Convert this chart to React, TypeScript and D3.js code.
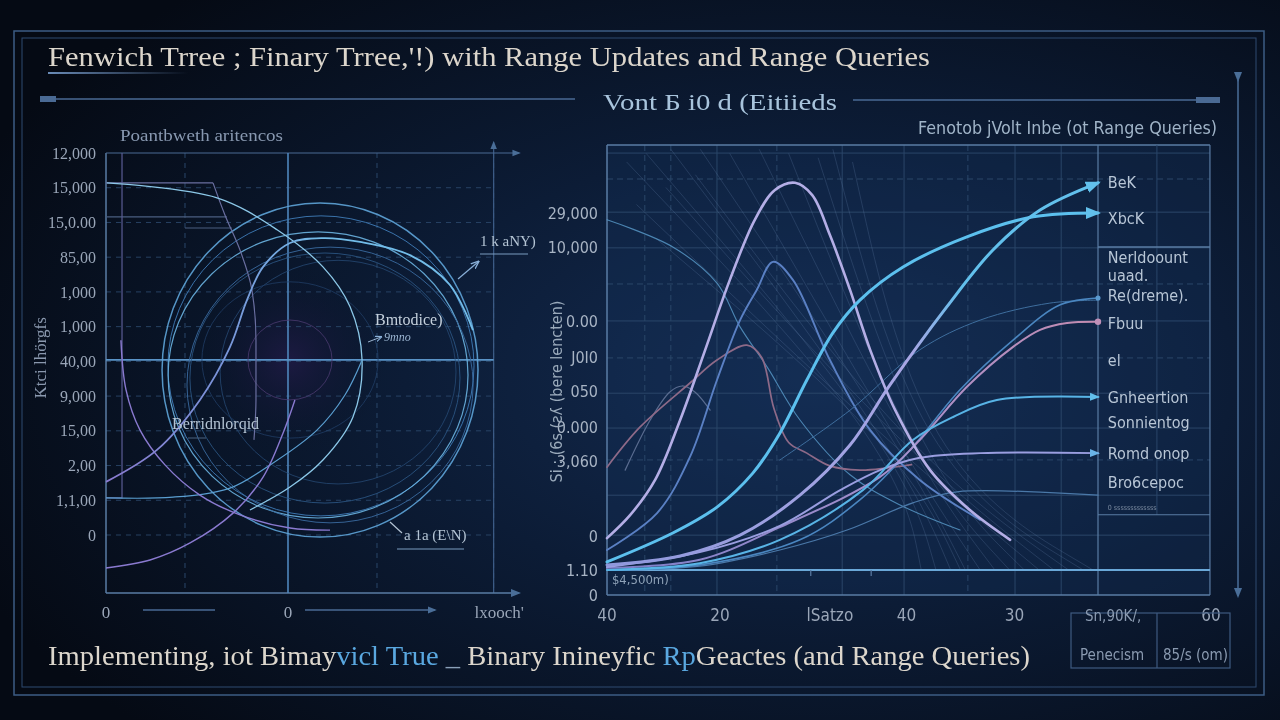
import React from 'react';
import * as d3 from 'd3';

type P = [number, number];

// ---------- left panel data ----------
const leftTickLabels = ['12,000', '15,000', '15,0.00', '85,00', '1,000', '1,000', '40,00', '9,000', '15,00', '2,00', '1,1,00', '0'];
const leftXVals = [0, 10, 21.6];
const leftXLabels = ['0', '0', "lxooch'"];
const leftDashX = [4.34, 14.89, 21.3];

// rings: [cx, cy, rx, ry]
const leftRings: number[][] = [
  [11.76, 4.75, 8.68, 4.81],
  [11.81, 4.87, 8.41, 4.32],
  [11.65, 4.61, 8.24, 4.12],
  [12.31, 4.32, 7.86, 3.97],
  [12.03, 4.52, 7.42, 3.6],
  [12.75, 4.69, 6.48, 3.22],
  [10.11, 5.04, 4.84, 2.25],
  [10.11, 5.04, 2.31, 1.15],
];

const arcTopLight: P[] = [[0.05, 10.14], [6.1, 9.71], [9.4, 8.79], [11.92, 7.72], [13.41, 6.57], [14.07, 5.04], [13.57, 3.4], [11.92, 2.16], [10.11, 1.38], [7.91, 0.72]];
const arcLowLight: P[] = [[0, 1.07], [3.68, 1.09], [6.81, 1.35], [8.85, 1.96], [11.59, 3.02], [13.13, 4.03], [14.07, 5.04]];
const arcPurpleBig: P[] = [[0.82, 5.61], [1.1, 4.18], [1.87, 3.02], [3.24, 2.02], [5.16, 1.15], [7.36, 0.58], [10.11, 0.2], [12.31, 0.14]];
const arcPurpleLow: P[] = [[0, -0.95], [2.42, -0.72], [4.62, -0.23], [6.98, 0.63], [8.63, 1.67], [9.73, 2.94], [10.38, 3.89]];
const arcRise: P[] = [[0, 1.53], [2.8, 2.45], [5.16, 3.89], [6.81, 5.41], [7.75, 6.77], [8.63, 7.72], [10.11, 8.41], [11.92, 8.55], [13.96, 8.44], [16.7, 8.06], [18.9, 7.2], [20.16, 5.9]];
const stepGrey: P[] = [[0, 10.14], [5.88, 10.14], [6.54, 9.21], [7.36, 8.21], [8.02, 7.05], [8.24, 5.61], [8.24, 3.89], [8.13, 2.74]];
const stepGrey2: P[] = [[0, 9.16], [6.65, 9.16]];
const stepGrey3: P[] = [[4.34, 8.84], [6.92, 8.84]];
const bracketPurple: P[] = [[0.88, 11], [0.88, 1.07], [0, 1.07]];

// ---------- right panel data ----------
const rightTickVals = [84, 76, 58.5, 50, 42, 33.5, 25.5, 8, 0, -6];
const rightTickLabels = ['29,000', '10,000', '0.00', 'J0I0', '050', '0.000', '3,060', '0', '1.10', '0'];
const rightXVals = [0, 23, 45.4, 61, 83, 123];
const rightXLabels = ['40', '20', 'lSatzo', '40', '30', '60'];
const rightGridY = [98.1, 92, 84.2, 75.8, 67.3, 58.6, 49.9, 41.6, 33.4, 25.9, 17.6, 8.2];
const rightGridYDashed = [false, true, false, false, true, false, true, false, false, true, false, false];
const rightGridX = [7.7, 13, 22.4, 34.6, 47.9, 60.5, 73.5, 83.1, 92.5];
const rightGridXDashed = [true, true, false, true, false, false, true, false, false];

const legendNames = ['BeK', 'XbcK', 'Nerldoount', 'uaad.', 'Re(dreme).', 'Fbuu', 'el', 'Gnheertion', 'Sonnientog', 'Romd onop', 'Bro6cepoc'];
const legendVals = [91.1, 82.8, 73.6, 69.4, 64.7, 58.1, 49.4, 40.7, 34.8, 27.5, 20.7];

const cBek: P[] = [[0, 1.2], [14.9, 3.3], [27.1, 8.2], [39.3, 17.6], [49.5, 29.4], [57.6, 43.5], [69.2, 61.9], [78.6, 75.3], [88.2, 84.7], [100, 91.1]];
const cXbck: P[] = [[0, 1.9], [13.4, 8.7], [22.4, 14.8], [29.7, 22.8], [35.2, 32.2], [40.7, 44.7], [46, 55.8], [51.5, 63.5], [60.3, 71.3], [73.3, 78.4], [86.8, 83.1], [100, 84]];
const lavPeak: P[] = [[0, 7.5], [4.7, 12.9], [9.8, 21.2], [14.9, 35.3], [20, 51.8], [25, 68.2], [30.1, 82.4], [34.2, 89.4], [38.3, 91.1], [41.8, 88.2], [45.4, 78.8], [49.5, 65.9], [53.6, 51.8], [58.7, 37.6], [65.8, 23.5], [73.9, 14.1], [82.1, 7.1]];
const bluePeak: P[] = [[0, 4.7], [10.2, 13.4], [16.9, 26.6], [22.4, 44.7], [27.1, 58.8], [30.5, 65.9], [33.8, 72.5], [37.9, 68.2], [45.4, 49.4], [53.6, 32.9], [63.7, 21.2], [76, 11.8]];
const mauvePeak: P[] = [[0, 24.2], [6.7, 33.6], [16.9, 44], [22.4, 49.4], [28.5, 52.9], [31.5, 50], [34, 38], [37, 30], [40.7, 27.5], [45.4, 24.5], [51.5, 23.5], [57, 24], [62, 24.8]];
const greyBump: P[] = [[3.7, 23.5], [8.8, 35.3], [12.8, 41.9], [15.3, 43.3], [17.9, 41.9], [21, 37.6]];
const blue298: P[] = [[0, 0], [18.9, 1.2], [39.3, 7.1], [51.5, 16.5], [61.7, 28.2], [71.9, 42.4], [82.7, 54.1], [92.3, 62.4], [100, 64]];
const thin298: P[] = [[35.2, 25.9], [49.5, 37.6], [63.7, 51.8], [76, 58.8], [90.2, 62.8], [100, 63.5]];
const mauve322: P[] = [[0, 0.5], [18.9, 2.4], [35.2, 10.1], [55.6, 21.9], [63.7, 30.6], [73.3, 43.1], [82.7, 52.5], [88.2, 56.5], [93.7, 58.1], [100, 58.4]];
const cyan397: P[] = [[0, 0], [18.9, 1.6], [35.2, 7.1], [52.1, 18.8], [62.3, 30.6], [70.5, 36], [79.4, 40], [100, 40.7]];
const lav453: P[] = [[0, 0.7], [18.9, 4.2], [35.2, 10.4], [47.5, 18.8], [55.6, 23.5], [63.7, 26.4], [76, 27.5], [100, 27.5]];
const thin495: P[] = [[0, 0], [18.9, 0.9], [35.2, 4.7], [48.9, 9.4], [62.3, 15.8], [71.3, 18.4], [100, 17.6]];
const lightDesc: P[] = [[0, 82.4], [13.4, 76], [22.4, 67.5], [27.1, 57.2], [32.6, 47.8], [39.3, 35.3], [49.5, 22.4], [59.7, 15.3], [71.9, 9.4]];

const fanStart: P[] = [[4, 96], [8, 98], [13, 99], [19, 99], [25, 98], [31, 99], [37, 98], [43, 97], [6, 86], [12, 90], [18, 93], [46, 99], [50, 96], [10, 78]];
const fanMid: P[] = [[59, 29], [60, 28], [60, 27], [61, 27], [61, 26], [62, 26], [62, 25], [63, 25], [59, 28], [60, 28], [61, 27], [63, 24], [64, 24], [60, 29]];
const fanEnd = [64, 67, 70, 73, 76, 79, 82, 85, 88, 91, 94, 97, 99, 72];

const serif = "'Liberation Serif', 'DejaVu Serif', serif";
const narrow = "'Liberation Sans Narrow', 'DejaVu Sans Condensed', 'Roboto Condensed', 'Liberation Sans', sans-serif";

export default function App() {
  const W = 1280;
  const H = 720;

  const xL = d3.scaleLinear().domain([0, 10]).range([106, 288]);
  const yL = d3.scaleLinear().domain([0, 11]).range([535, 153]);
  const xR = d3.scaleLinear().domain([0, 100]).range([607, 1098]);
  const yR = d3.scaleLinear().domain([0, 100]).range([570, 145]);

  const lineL = d3.line<P>().x(d => xL(d[0])).y(d => yL(d[1])).curve(d3.curveCatmullRom.alpha(0.5));
  const lineLStraight = d3.line<P>().x(d => xL(d[0])).y(d => yL(d[1]));
  const lineLStep = d3.line<P>().x(d => xL(d[0])).y(d => yL(d[1])).curve(d3.curveMonotoneY);
  const lineR = d3.line<P>().x(d => xR(d[0])).y(d => yR(d[1])).curve(d3.curveCatmullRom.alpha(0.5));
  const fanLine = d3.line<P>().x(d => xR(d[0])).y(d => yR(d[1])).curve(d3.curveBasis);

  const ringStyle = [
    { c: '#5ea4d8', w: 1.5 }, { c: '#3f7cb8', w: 1 }, { c: '#6ab2e0', w: 1.2 }, { c: '#3a6aa0', w: 1 },
    { c: '#2e5a8a', w: 0.9 }, { c: '#284e7a', w: 0.8 }, { c: '#22406a', w: 0.8 }, { c: '#4a3a70', w: 0.9 },
  ];

  const rightSeries: { pts: P[]; color: string; w: number; end?: string; op?: number }[] = [
    { pts: lightDesc, color: '#5a9ccc', w: 1.1, op: 0.8 },
    { pts: greyBump, color: '#5a6c90', w: 1.2 },
    { pts: mauvePeak, color: '#8e6a88', w: 1.7 },
    { pts: bluePeak, color: '#5a80c4', w: 1.9 },
    { pts: thin298, color: '#3e6e9e', w: 1 },
    { pts: thin495, color: '#4a78a8', w: 1.2 },
    { pts: blue298, color: '#4a86c0', w: 1.6, end: 'dotB' },
    { pts: mauve322, color: 'url(#gMauve)', w: 2, end: 'dotM' },
    { pts: lav453, color: '#9a9ee0', w: 2, end: 'arrL' },
    { pts: cyan397, color: '#58b4e6', w: 2, end: 'arrC' },
    { pts: lavPeak, color: '#b4aee6', w: 2.6 },
    { pts: cXbck, color: '#5cc0ee', w: 3, end: 'arrC' },
    { pts: cBek, color: 'url(#gBek)', w: 3, end: 'arrC' },
  ];

  const gridCol = '#2a4669';
  const frameCol = '#5a7ca4';

  return (
    <svg width={W} height={H} style={{ position: 'fixed', left: 0, top: 0, display: 'block' }}>
      <defs>
        <radialGradient id="bg" cx="64%" cy="52%" r="72%">
          <stop offset="0%" stopColor="#142c52" />
          <stop offset="45%" stopColor="#0c1c36" />
          <stop offset="100%" stopColor="#050a14" />
        </radialGradient>
        <radialGradient id="glow" cx="50%" cy="50%" r="50%">
          <stop offset="0%" stopColor="#1e1a44" stopOpacity={0.9} />
          <stop offset="100%" stopColor="#0a1428" stopOpacity={0} />
        </radialGradient>
        <linearGradient id="gBek" gradientUnits="userSpaceOnUse" x1={xR(0)} x2={xR(100)} y1={0} y2={0}>
          <stop offset="0%" stopColor="#8f98dc" />
          <stop offset="62%" stopColor="#a8a6e4" />
          <stop offset="72%" stopColor="#62c0ec" />
          <stop offset="100%" stopColor="#62c0ec" />
        </linearGradient>
        <linearGradient id="gMauve" gradientUnits="userSpaceOnUse" x1={xR(0)} x2={xR(100)} y1={0} y2={0}>
          <stop offset="0%" stopColor="#7c7ec8" />
          <stop offset="60%" stopColor="#a690cc" />
          <stop offset="100%" stopColor="#c48cb0" />
        </linearGradient>
        <linearGradient id="gRise" gradientUnits="userSpaceOnUse" x1={xL(0)} x2={xL(12)} y1={0} y2={0}>
          <stop offset="0%" stopColor="#8a7ad0" />
          <stop offset="50%" stopColor="#7a92d8" />
          <stop offset="100%" stopColor="#72bce8" />
        </linearGradient>
        <linearGradient id="underline" x1="0" x2="1" y1="0" y2="0">
          <stop offset="0%" stopColor="#6a8cb8" />
          <stop offset="100%" stopColor="#6a8cb8" stopOpacity={0} />
        </linearGradient>
        <marker id="arrC" viewBox="0 0 10 10" refX="8" refY="5" markerWidth="5" markerHeight="5" orient="auto">
          <path d="M0,1 L10,5 L0,9 z" fill="#62c0ec" />
        </marker>
        <marker id="arrL" viewBox="0 0 10 10" refX="8" refY="5" markerWidth="5" markerHeight="5" orient="auto">
          <path d="M0,1 L10,5 L0,9 z" fill="#6ab4e8" />
        </marker>
        <marker id="dotB" viewBox="0 0 10 10" refX="5" refY="5" markerWidth="4" markerHeight="4">
          <circle cx="5" cy="5" r="4" fill="#5a9ad0" />
        </marker>
        <marker id="dotM" viewBox="0 0 10 10" refX="5" refY="5" markerWidth="4" markerHeight="4">
          <circle cx="5" cy="5" r="4" fill="#c090b8" />
        </marker>
        <marker id="arrW" viewBox="0 0 10 10" refX="8" refY="5" markerWidth="7" markerHeight="7" orient="auto">
          <path d="M0,1 L10,5 L0,9" fill="none" stroke="#8ab0d8" strokeWidth="1.5" />
        </marker>
        <marker id="arrF" viewBox="0 0 10 10" refX="8" refY="5" markerWidth="7" markerHeight="7" orient="auto">
          <path d="M0,1 L10,5 L0,9 z" fill="#4a6e98" />
        </marker>
      </defs>

      <rect x={0} y={0} width={W} height={H} fill="url(#bg)" />
      <rect x={xR(0)} y={yR(100)} width={xR(122.8) - xR(0)} height={yR(-5.9) - yR(100)} fill="#15305a" opacity={0.35} />

      {/* outer frame */}
      <rect x={14} y={31} width={1250} height={664} fill="none" stroke="#3c5c84" strokeWidth={1.5} />
      <rect x={22} y={38} width={1234} height={649} fill="none" stroke="#2e4a70" strokeWidth={1} />

      {/* title */}
      <text x={48} y={66} fontFamily={serif} fontSize={28} fill="#dcd6cc" textLength={882} lengthAdjust="spacingAndGlyphs">
        Fenwich Trree ; Finary Trree,'!) with Range Updates and Range Queries
      </text>
      <rect x={48} y={72} width={140} height={2} fill="url(#underline)" />

      {/* header rule */}
      <line x1={40} x2={575} y1={99} y2={99} stroke="#4a6a94" strokeWidth={1.5} />
      <rect x={40} y={96} width={16} height={6} fill="#4a6a94" />
      <text x={603} y={110} fontFamily={serif} fontSize={24} fill="#a8c4dc" textLength={234} lengthAdjust="spacingAndGlyphs">
        Vont Б i0 d (Eitiieds
      </text>
      <line x1={853} x2={1220} y1={100} y2={100} stroke="#4a6a94" strokeWidth={1.5} />
      <rect x={1196} y={97} width={24} height={6} fill="#4a6a94" />
      <line x1={1238} x2={1238} y1={80} y2={596} stroke="#4a6e98" strokeWidth={1.5} markerEnd="url(#arrF)" markerStart="url(#arrF)" />

      {/* ---------------- LEFT PANEL ---------------- */}
      <text x={120} y={141} fontFamily={serif} fontSize={17} fill="#8898b0" textLength={163} lengthAdjust="spacingAndGlyphs">
        Poantbweth aritencos
      </text>
      <circle cx={xL(10.11)} cy={yL(5.04)} r={95} fill="url(#glow)" />

      {leftTickLabels.map((_, i) => (
        <line key={'lg' + i} x1={xL(0)} x2={xL(21.3)} y1={yL(11 - i)} y2={yL(11 - i)} stroke={gridCol} strokeWidth={1} strokeDasharray="5 5" opacity={i === 0 ? 0 : 0.9} />
      ))}
      {leftDashX.map((v, i) => (
        <line key={'lv' + i} x1={xL(v)} x2={xL(v)} y1={yL(11)} y2={yL(-1.67)} stroke={gridCol} strokeWidth={1} strokeDasharray="5 5" />
      ))}
      <line x1={xL(21.3)} x2={xL(21.3)} y1={yL(-1.67)} y2={yL(11.3)} stroke="#3e5e88" strokeWidth={1.2} markerEnd="url(#arrF)" />

      {/* axes */}
      <line x1={xL(0)} x2={xL(0)} y1={yL(11)} y2={yL(-1.67)} stroke={frameCol} strokeWidth={1.5} />
      <line x1={xL(0)} x2={xL(22.7)} y1={yL(11)} y2={yL(11)} stroke="#4a6a94" strokeWidth={1.2} markerEnd="url(#arrF)" />
      <line x1={xL(0)} x2={xL(22.7)} y1={yL(-1.67)} y2={yL(-1.67)} stroke={frameCol} strokeWidth={1.5} markerEnd="url(#arrF)" />
      <line x1={xL(10)} x2={xL(10)} y1={yL(11)} y2={yL(-1.67)} stroke="#4f86bc" strokeWidth={1.6} />
      <line x1={xL(0)} x2={xL(21.3)} y1={yL(5.04)} y2={yL(5.04)} stroke="#5a94c8" strokeWidth={1.8} />

      {/* rings */}
      {leftRings.map((r, i) => (
        <ellipse key={'ring' + i} cx={xL(r[0])} cy={yL(r[1])} rx={xL(r[0] + r[2]) - xL(r[0])} ry={yL(r[1]) - yL(r[1] + r[3])}
          fill="none" stroke={ringStyle[i].c} strokeWidth={ringStyle[i].w} opacity={0.9} />
      ))}

      <path d={lineLStraight(stepGrey2) || ''} fill="none" stroke="#4a5e80" strokeWidth={1.1} />
      <path d={lineLStraight(stepGrey3) || ''} fill="none" stroke="#4a5e80" strokeWidth={1.1} />
      <path d={lineLStep(stepGrey.slice(1)) || ''} fill="none" stroke="#6a6fa0" strokeWidth={1.2} />
      <path d={lineLStraight(stepGrey.slice(0, 2)) || ''} fill="none" stroke="#6a6fa0" strokeWidth={1.2} />
      <path d={lineLStraight(bracketPurple) || ''} fill="none" stroke="#5a5c94" strokeWidth={1.2} />
      <path d={lineL(arcTopLight) || ''} fill="none" stroke="#8cc8e8" strokeWidth={1.3} />
      <path d={lineL(arcLowLight) || ''} fill="none" stroke="#5a9ed0" strokeWidth={1.2} />
      <path d={lineL(arcPurpleBig) || ''} fill="none" stroke="#8a7ad0" strokeWidth={1.4} />
      <path d={lineL(arcPurpleLow) || ''} fill="none" stroke="#8a7ad0" strokeWidth={1.4} />
      <path d={lineL(arcRise) || ''} fill="none" stroke="url(#gRise)" strokeWidth={1.8} />

      {/* left tick labels */}
      {leftTickLabels.map((t, i) => (
        <text key={'lt' + i} x={96} y={yL(11 - i)} dy="0.35em" textAnchor="end" fontFamily={serif} fontSize={16} fill="#9aa6b8">{t}</text>
      ))}
      <text transform={`translate(46,${yL(5.1)}) rotate(-90)`} textAnchor="middle" fontFamily={serif} fontSize={17} fill="#8a98ae">
        Ktci lhörgfs
      </text>
      {leftXVals.map((v, i) => (
        <text key={'lx' + i} x={xL(v)} y={612} dy="0.35em" textAnchor="middle" fontFamily={serif} fontSize={17} fill="#9aa6b8">{leftXLabels[i]}</text>
      ))}
      <line x1={143} x2={215} y1={610} y2={610} stroke="#4a6a94" strokeWidth={1.3} />
      <line x1={305} x2={435} y1={610} y2={610} stroke="#4a6a94" strokeWidth={1.3} markerEnd="url(#arrF)" />

      {/* annotations left */}
      <text x={375} y={325} fontFamily={serif} fontSize={16} fill="#c4d0dc">Bmtodice)</text>
      <line x1={368} x2={381} y1={342} y2={337} stroke="#9ab4d0" strokeWidth={1} markerEnd="url(#arrW)" />
      <text x={384} y={341} fontFamily={serif} fontSize={12} fontStyle="italic" fill="#9ab4d0">9mno</text>
      <text x={480} y={246} fontFamily={serif} fontSize={15} fill="#b4c4d4">1 k aNY)</text>
      <line x1={480} x2={528} y1={254} y2={254} stroke="#7a9cc0" strokeWidth={1} />
      <line x1={458} x2={478} y1={279} y2={262} stroke="#8ab0d8" strokeWidth={1.2} markerEnd="url(#arrW)" />
      <text x={172} y={429} fontFamily={serif} fontSize={16} fill="#b4c4d4">Berridnlorqid</text>
      <line x1={188} x2={206} y1={438} y2={438} stroke="#4a6280" strokeWidth={1} />
      <text x={404} y={540} fontFamily={serif} fontSize={15} fill="#b4c4d4">a 1a (E\N)</text>
      <line x1={397} x2={464} y1={549} y2={549} stroke="#7a9cc0" strokeWidth={1} />
      <line x1={402} x2={390} y1={533} y2={522} stroke="#b4c4d4" strokeWidth={1.2} />

      {/* ---------------- RIGHT PANEL ---------------- */}
      <text x={1217} y={134} textAnchor="end" fontFamily={narrow} fontStretch="condensed" fontSize={17} fill="#a0b4c8" textLength={299} lengthAdjust="spacingAndGlyphs">
        Fenotob jVolt Inbe (ot Range Queries)
      </text>

      {rightGridY.map((v, i) => (
        <line key={'rgy' + i} x1={xR(0)} x2={xR(122.8)} y1={yR(v)} y2={yR(v)} stroke={gridCol} strokeWidth={1} strokeDasharray={rightGridYDashed[i] ? '6 4' : undefined} />
      ))}
      {rightGridX.map((v, i) => (
        <line key={'rgx' + i} x1={xR(v)} x2={xR(v)} y1={yR(100)} y2={yR(-5.9)} stroke={gridCol} strokeWidth={1} strokeDasharray={rightGridXDashed[i] ? '6 4' : undefined} />
      ))}

      {/* fan of thin lines */}
      {fanStart.map((s, i) => (
        <path key={'fan' + i} d={fanLine([s, fanMid[i], [fanEnd[i], 0]]) || ''} fill="none" stroke="#6a8ab4" strokeWidth={0.6} opacity={0.4} />
      ))}

      {/* frame */}
      <line x1={xR(0)} x2={xR(0)} y1={yR(100)} y2={yR(-5.9)} stroke={frameCol} strokeWidth={1.5} />
      <line x1={xR(0)} x2={xR(122.8)} y1={yR(100)} y2={yR(100)} stroke={frameCol} strokeWidth={1.5} />
      <line x1={xR(122.8)} x2={xR(122.8)} y1={yR(100)} y2={yR(-5.9)} stroke={frameCol} strokeWidth={1.2} />
      <line x1={xR(100)} x2={xR(100)} y1={yR(100)} y2={yR(-5.9)} stroke={frameCol} strokeWidth={1.2} />
      <line x1={xR(112)} x2={xR(112)} y1={yR(100)} y2={yR(13)} stroke={gridCol} strokeWidth={1} />
      <line x1={xR(0)} x2={xR(122.8)} y1={yR(-5.9)} y2={yR(-5.9)} stroke={frameCol} strokeWidth={1.5} />
      <line x1={xR(0)} x2={xR(122.8)} y1={yR(0)} y2={yR(0)} stroke="#6aa8d8" strokeWidth={2.2} />
      <line x1={xR(100)} x2={xR(122.8)} y1={yR(76)} y2={yR(76)} stroke={frameCol} strokeWidth={1.5} />
      <line x1={xR(100)} x2={xR(122.8)} y1={yR(13)} y2={yR(13)} stroke={frameCol} strokeWidth={1.2} />
      <line x1={xR(41.5)} x2={xR(41.5)} y1={yR(0)} y2={yR(-1.4)} stroke={frameCol} strokeWidth={1.2} />
      <line x1={xR(53.8)} x2={xR(53.8)} y1={yR(0)} y2={yR(-1.4)} stroke={frameCol} strokeWidth={1.2} />

      {/* series */}
      {rightSeries.map((s, i) => (
        <path key={'rs' + i} d={lineR(s.pts) || ''} fill="none" stroke={s.color} strokeWidth={s.w} opacity={s.op ?? 1}
          strokeLinecap="round" markerEnd={s.end ? `url(#${s.end})` : undefined} />
      ))}

      {/* right tick labels */}
      {rightTickVals.map((v, i) => (
        <text key={'rt' + i} x={598} y={yR(v)} dy="0.35em" textAnchor="end" fontFamily={narrow} fontStretch="condensed" fontSize={16} fill="#a8b4c4">{rightTickLabels[i]}</text>
      ))}
      <text transform={`translate(562,${yR(42)}) rotate(-90)`} textAnchor="middle" fontFamily={narrow} fontStretch="condensed" fontSize={16} fill="#9aaabb">
        Si : (6s (ƨʎ (bere lencten)
      </text>
      <text x={xR(1)} y={584} fontFamily={narrow} fontStretch="condensed" fontSize={13} fill="#8ea2b8">$4,500m)</text>
      {rightXVals.map((v, i) => (
        <text key={'rx' + i} x={xR(v)} y={615} dy="0.35em" textAnchor="middle" fontFamily={narrow} fontStretch="condensed" fontSize={17} fill="#9aa6b8">{rightXLabels[i]}</text>
      ))}

      {/* legend column */}
      {legendNames.map((n, i) => (
        <text key={'ln' + i} x={xR(102)} y={yR(legendVals[i])} dy="0.35em" fontFamily={narrow} fontStretch="condensed" fontSize={16} fill="#b8c6d6">{n}</text>
      ))}
      <text x={xR(102)} y={yR(14.8)} dy="0.35em" fontFamily={narrow} fontSize={7} fill="#7a8aa0">0 sssssssssssss</text>

      {/* bottom-right box */}
      <rect x={1071} y={613} width={159} height={55} fill="none" stroke="#3e5a80" strokeWidth={1.2} />
      <line x1={1157} x2={1157} y1={613} y2={668} stroke="#3e5a80" strokeWidth={1.2} />
      <text x={1085} y={616} dy="0.35em" fontFamily={narrow} fontStretch="condensed" fontSize={15} fill="#8a9ab0">Sn,90K/,</text>
      <text x={1080} y={655} dy="0.35em" fontFamily={narrow} fontStretch="condensed" fontSize={15} fill="#8a9ab0">Penecism</text>
      <text x={1163} y={655} dy="0.35em" fontFamily={narrow} fontStretch="condensed" fontSize={15} fill="#8a9ab0">85/s (om)</text>

      {/* footer */}
      <text x={48} y={665} fontFamily={serif} fontSize={28} fill="#dcd6cc" textLength={982} lengthAdjust="spacingAndGlyphs">
        <tspan>Implementing, iot Bimay</tspan>
        <tspan fill="#5aa8e0">vicl True </tspan>
        <tspan fill="#8aa0b8">_ </tspan>
        <tspan> Binary Inineyfic </tspan>
        <tspan fill="#5aa8e0">Rp</tspan>
        <tspan>Geactes (and Range Queries)</tspan>
      </text>
    </svg>
  );
}
